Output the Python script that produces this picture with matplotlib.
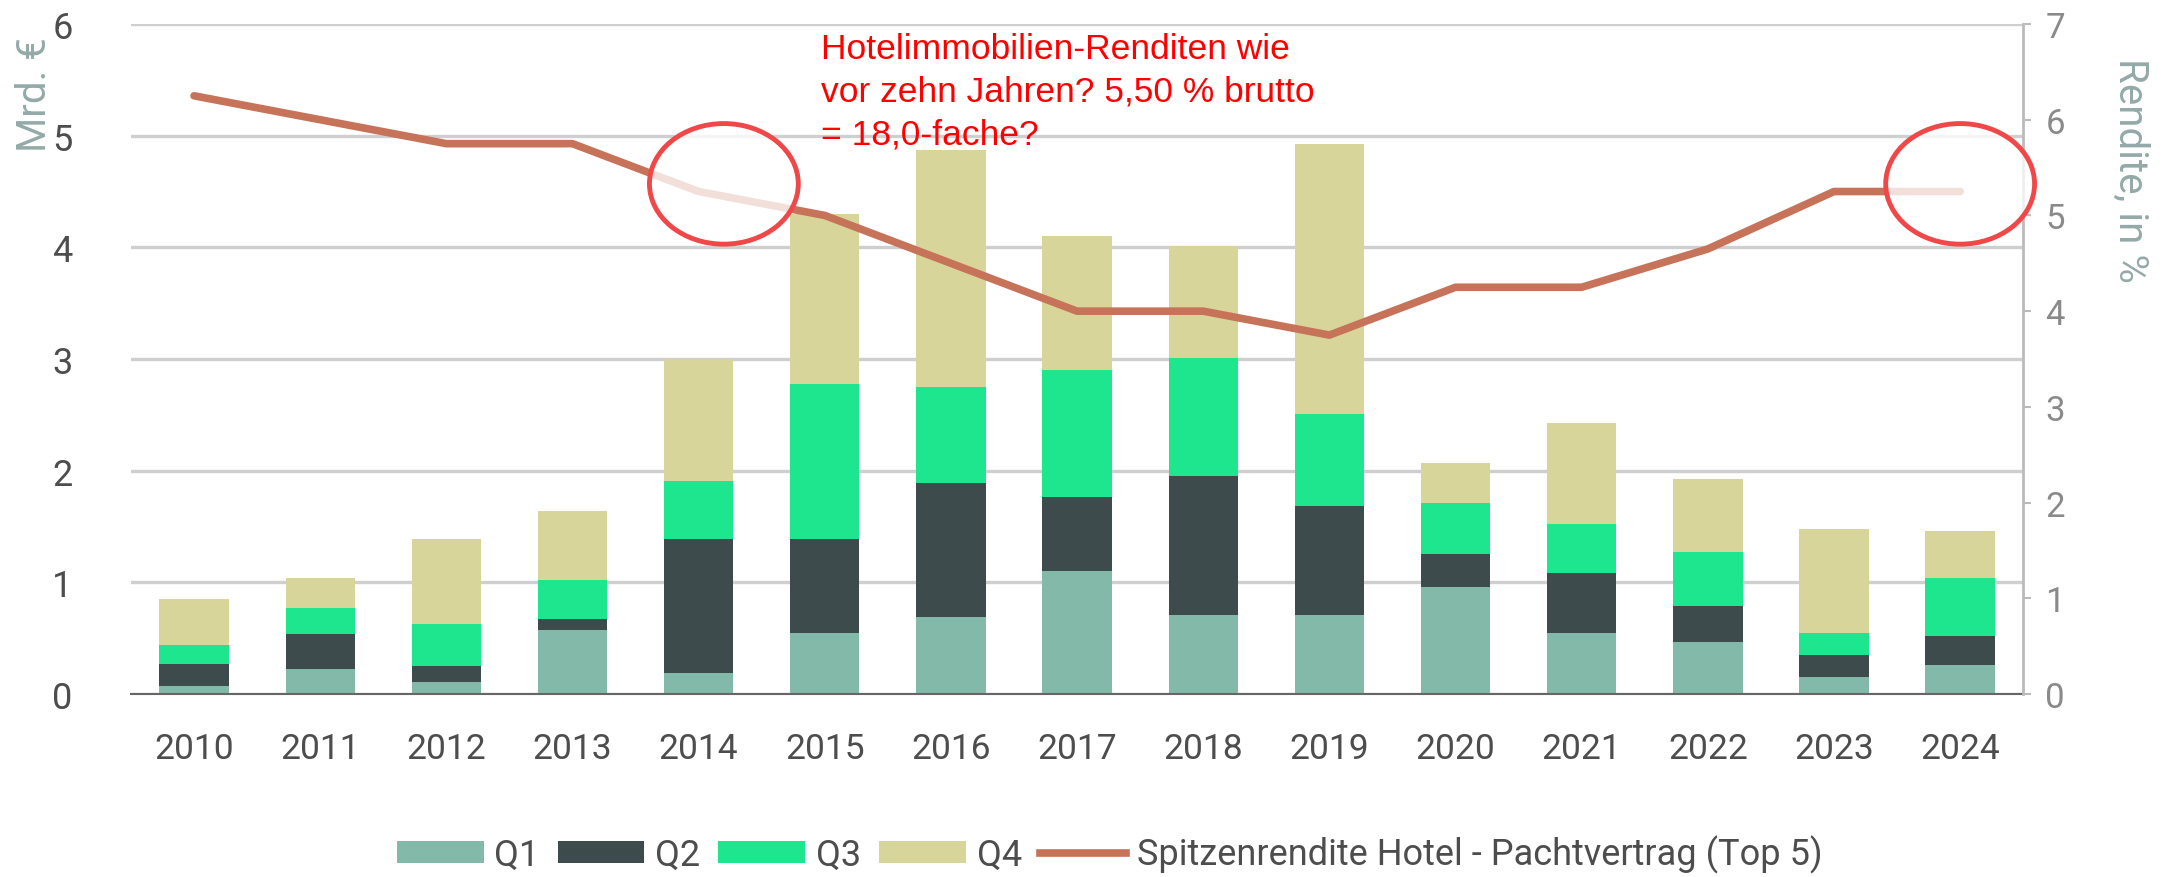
import matplotlib
matplotlib.use("Agg")
import matplotlib.pyplot as plt
from matplotlib.patches import Ellipse, Patch
from matplotlib.lines import Line2D
import numpy as np

years = ['2010', '2011', '2012', '2013', '2014', '2015', '2016', '2017',
         '2018', '2019', '2020', '2021', '2022', '2023', '2024']
q1 = [0.07, 0.22, 0.11, 0.57, 0.19, 0.55, 0.69, 1.10, 0.71, 0.71, 0.96, 0.55, 0.47, 0.15, 0.26]
q2 = [0.20, 0.32, 0.14, 0.10, 1.20, 0.84, 1.20, 0.66, 1.24, 0.97, 0.29, 0.53, 0.32, 0.20, 0.26]
q3 = [0.17, 0.23, 0.38, 0.35, 0.52, 1.39, 0.86, 1.14, 1.06, 0.83, 0.46, 0.44, 0.48, 0.20, 0.52]
q4 = [0.41, 0.27, 0.76, 0.62, 1.09, 1.52, 2.12, 1.20, 1.00, 2.42, 0.36, 0.91, 0.66, 0.93, 0.42]
rendite = [6.25, 6.0, 5.75, 5.75, 5.25, 5.0, 4.5, 4.0, 4.0, 3.75, 4.25, 4.25, 4.65, 5.25, 5.25]

series_names = ['Q1', 'Q2', 'Q3', 'Q4']
line_name = 'Spitzenrendite Hotel - Pachtvertrag (Top 5)'
left_ticks = [0, 1, 2, 3, 4, 5, 6]
right_ticks = [0, 1, 2, 3, 4, 5, 6, 7]
note = "Hotelimmobilien-Renditen wie\nvor zehn Jahren? 5,50 % brutto\n= 18,0-fache?"

colors = ['#82b9a9', '#3e4b4c', '#1ee68e', '#d7d599']
line_color = '#c6735a'
tick_color = '#4d4d4d'
label_color = '#93aaa8'

plt.rcParams['font.family'] = ['Roboto', 'DejaVu Sans']

fig = plt.figure(figsize=(21.72, 8.78), dpi=100)
ax = fig.add_axes([0.0603, 0.2084, 0.8712, 0.7631])
ax2 = ax.twinx()

x = np.arange(len(years))
bottom = np.zeros(len(years))
for vals, c, name in zip([q1, q2, q3, q4], colors, series_names):
    ax.bar(x, vals, width=0.55, bottom=bottom, color=c, label=name, zorder=2)
    bottom += np.array(vals)

ax.set_xlim(-0.5, 14.5)
ax.set_ylim(0, 6)
ax.set_yticks(left_ticks)
ax.set_xticks(x)
ax.set_xticklabels(years)
ax.tick_params(axis='x', length=0, pad=27, labelsize=25.5, labelcolor=tick_color)
ax.tick_params(axis='y', length=0, pad=42, labelsize=26, labelcolor=tick_color)
ax.grid(axis='y', color='#cfcfcf', linewidth=2.4, zorder=0)
ax.set_axisbelow(True)
for s in ['left', 'top', 'right']:
    ax.spines[s].set_visible(False)
ax.spines['bottom'].set_color('#666666')
ax.spines['bottom'].set_linewidth(1.5)
ax.spines['bottom'].set_zorder(3)

ax2.plot(x, rendite, color=line_color, linewidth=5.5, solid_capstyle='round', zorder=4)
ax2.set_ylim(0, 7)
ax2.set_yticks(right_ticks)
ax2.tick_params(axis='y', length=6, width=1.5, color='#bbbbbb', pad=10,
                labelsize=25, labelcolor='#8a8a8a')
for s in ['left', 'top', 'bottom']:
    ax2.spines[s].set_visible(False)
ax2.spines['right'].set_color('#bbbbbb')
ax2.spines['right'].set_linewidth(2)

fig.text(0.0157, 0.892, 'Mrd. €', rotation=90, ha='center', va='center',
         fontsize=29, color=label_color)
fig.text(0.981, 0.806, 'Rendite, in %', rotation=270, ha='center', va='center',
         fontsize=29, color=label_color)

# highlight circles (drawn on the right-hand axis scale)
for cx in [4.2, 14.0]:
    e = Ellipse((cx, 5.33), width=1.18, height=1.26, facecolor=(1, 1, 1, 0.78),
                edgecolor='#f04848', linewidth=3.5, zorder=6, clip_on=False)
    ax2.add_patch(e)

fig.text(0.378, 0.962, note, ha='left', va='top', color='#ff0000',
         fontsize=25.5, family=['Liberation Sans Narrow', 'Liberation Sans', 'DejaVu Sans'],
         linespacing=1.36)

handles = [Patch(facecolor=c, label=n) for c, n in zip(colors, series_names)]
handles.append(Line2D([0], [0], color=line_color, linewidth=5.5, label=line_name))
fig.legend(handles=handles, loc='center', bbox_to_anchor=(0.511, 0.026), ncol=5,
           frameon=False, fontsize=26, labelcolor=tick_color, handlelength=2.4,
           handleheight=0.55, handletextpad=0.3, columnspacing=0.5)

fig.savefig('out.png', dpi=100, facecolor='white')
